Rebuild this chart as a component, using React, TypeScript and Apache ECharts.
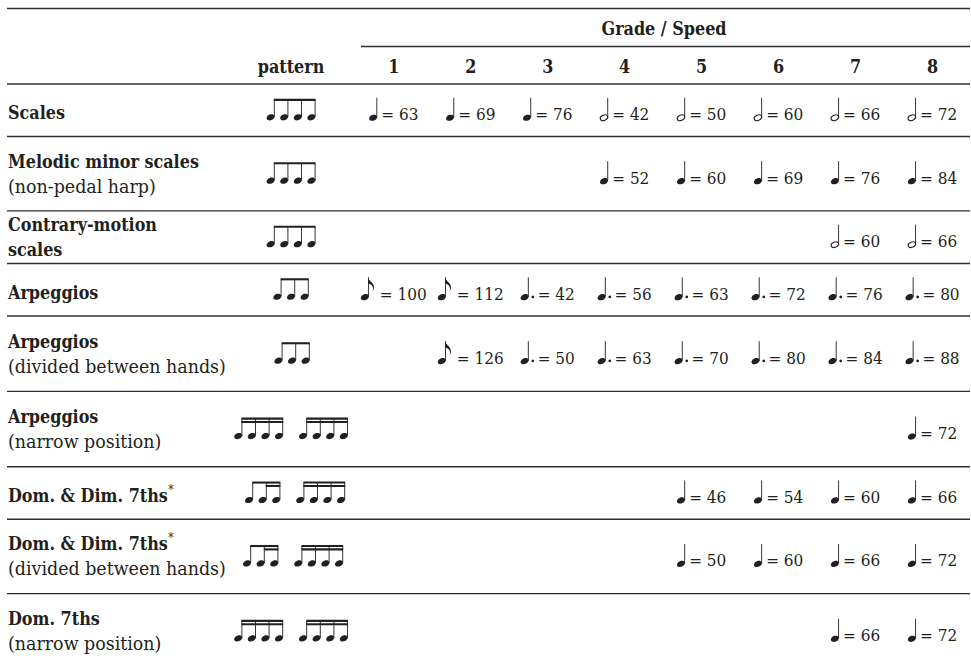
import React, { useEffect, useRef } from 'react';
import * as echarts from 'echarts';

// ---------- data ----------
const GRADES = ['1', '2', '3', '4', '5', '6', '7', '8'];
const HEADER_TITLE = 'Grade / Speed';
const PATTERN_TITLE = 'pattern';

const EXERCISES = [
  'Scales',
  'Melodic minor scales',
  'Contrary-motion',
  'Arpeggios',
  'Arpeggios',
  'Arpeggios',
  'Dom. & Dim. 7ths',
  'Dom. & Dim. 7ths',
  'Dom. 7ths',
];
const EXERCISE_SUBLINES = [
  '',
  '(non-pedal harp)',
  'scales',
  '',
  '(divided between hands)',
  '(narrow position)',
  '',
  '(divided between hands)',
  '(narrow position)',
];
const SUBLINE_BOLD = [false, false, true, false, false, false, false, false, false];
const FOOTNOTE_MARK = [false, false, false, false, false, false, true, true, false];

// rhythm patterns: groups of note values (8 = eighth, 16 = sixteenth)
const PATTERNS: number[][][] = [
  [[8, 8, 8, 8]],
  [[8, 8, 8, 8]],
  [[8, 8, 8, 8]],
  [[8, 8, 8]],
  [[8, 8, 8]],
  [[16, 16, 16, 16], [16, 16, 16, 16]],
  [[8, 16, 16], [16, 16, 16, 16]],
  [[8, 16, 16], [16, 16, 16, 16]],
  [[16, 16, 16, 16], [16, 16, 16, 16]],
];

// tempo values per grade (null = not required); note kinds: q quarter, h half, e eighth, d dotted quarter
const SCALES = [63, 69, 76, 42, 50, 60, 66, 72];
const SCALES_NOTE = ['q', 'q', 'q', 'h', 'h', 'h', 'h', 'h'];
const MELODIC_MINOR = [null, null, null, 52, 60, 69, 76, 84];
const MELODIC_MINOR_NOTE = ['', '', '', 'q', 'q', 'q', 'q', 'q'];
const CONTRARY = [null, null, null, null, null, null, 60, 66];
const CONTRARY_NOTE = ['', '', '', '', '', '', 'h', 'h'];
const ARPEGGIOS = [100, 112, 42, 56, 63, 72, 76, 80];
const ARPEGGIOS_NOTE = ['e', 'e', 'd', 'd', 'd', 'd', 'd', 'd'];
const ARP_DIVIDED = [null, 126, 50, 63, 70, 80, 84, 88];
const ARP_DIVIDED_NOTE = ['', 'e', 'd', 'd', 'd', 'd', 'd', 'd'];
const ARP_NARROW = [null, null, null, null, null, null, null, 72];
const ARP_NARROW_NOTE = ['', '', '', '', '', '', '', 'q'];
const DOM_DIM = [null, null, null, null, 46, 54, 60, 66];
const DOM_DIM_NOTE = ['', '', '', '', 'q', 'q', 'q', 'q'];
const DOM_DIM_DIVIDED = [null, null, null, null, 50, 60, 66, 72];
const DOM_DIM_DIVIDED_NOTE = ['', '', '', '', 'q', 'q', 'q', 'q'];
const DOM7_NARROW = [null, null, null, null, null, null, 66, 72];
const DOM7_NARROW_NOTE = ['', '', '', '', '', '', 'q', 'q'];

const TEMPI = [SCALES, MELODIC_MINOR, CONTRARY, ARPEGGIOS, ARP_DIVIDED, ARP_NARROW, DOM_DIM, DOM_DIM_DIVIDED, DOM7_NARROW];
const TEMPO_NOTES = [SCALES_NOTE, MELODIC_MINOR_NOTE, CONTRARY_NOTE, ARPEGGIOS_NOTE, ARP_DIVIDED_NOTE, ARP_NARROW_NOTE, DOM_DIM_NOTE, DOM_DIM_DIVIDED_NOTE, DOM7_NARROW_NOTE];

// ---------- layout ----------
const ROW_HEIGHTS = [53, 75, 53, 53, 76, 76, 53, 75, 76];
const ROW_TOP: number[] = [];
ROW_HEIGHTS.reduce((acc, h, i) => { ROW_TOP[i] = acc; return acc + h; }, 0);
const ROW_MID = ROW_HEIGHTS.map((h, i) => ROW_TOP[i] + h / 2);
const PATTERN_SHIFT = [0, 0, 0, 0, 1, 0, 4, 2, 0];

const INK = '#231f20';
const RULE = '#2e2e2e';
const LEFT = 7;
const RIGHT = 970;
const PATTERN_X = 291;

let measureCtx: CanvasRenderingContext2D | null = null;
function measure(text: string, font: string): number {
  if (!measureCtx) measureCtx = document.createElement('canvas').getContext('2d');
  measureCtx!.font = font;
  return measureCtx!.measureText(text).width;
}

function pickFonts() {
  const probe = 'Scales Melodic minor 0123456789';
  const a = measure(probe, 'bold 20px "DejaVu Serif Condensed", monospace');
  const b = measure(probe, 'bold 20px monospace');
  const condensed = Math.abs(a - b) > 0.5;
  if (condensed) {
    const fam = '"DejaVu Serif Condensed", "DejaVu Serif", serif';
    return {
      bold: `bold 17.8px ${fam}`,
      reg: `19.4px ${fam}`,
      tempo: `17px ${fam}`,
      star: `12px ${fam}`,
      fam,
      boldSize: 17.8,
    };
  }
  const fam = '"DejaVu Serif", serif';
  return {
    bold: `bold 16px ${fam}`,
    reg: `17.5px ${fam}`,
    tempo: `15px ${fam}`,
    star: `11px ${fam}`,
    fam,
    boldSize: 16,
  };
}

function head(x: number, y: number, filled: boolean): any {
  return {
    type: 'ellipse',
    x, y,
    rotation: 0.38,
    shape: { cx: 0, cy: 0, rx: filled ? 4.2 : 3.9, ry: filled ? 2.9 : 2.6 },
    style: filled ? { fill: INK } : { fill: 'none', stroke: INK, lineWidth: 1.1 },
  };
}
function stem(x: number, y1: number, y2: number): any {
  return { type: 'line', shape: { x1: x, y1, x2: x, y2 }, style: { stroke: INK, lineWidth: 0.9 } };
}

function tempoNote(kind: string, hx: number, hy: number): any[] {
  const els: any[] = [];
  const sx = hx + 3.7;
  const top = hy - 20;
  els.push(head(hx, hy, kind !== 'h'));
  els.push(stem(sx, hy - 0.5, top));
  if (kind === 'e') {
    const pts = [[0, 0], [0.8, 2.2], [2.6, 4.2], [4.6, 6.4], [5.8, 9], [5.6, 11.8], [4.6, 14.2], [4.9, 11.4], [4.4, 9.2], [3, 7.6], [0, 6.2]];
    els.push({ type: 'polygon', shape: { points: pts.map(([a, b]) => [sx - 0.4 + a, top + b]) }, style: { fill: INK } });
  }
  if (kind === 'd') {
    els.push({ type: 'circle', shape: { cx: hx + 8.2, cy: hy - 0.3, r: 1.4 }, style: { fill: INK } });
  }
  return els;
}
const NOTE_W: Record<string, number> = { q: 8.2, h: 8.2, e: 15, d: 11.4 };
const NOTE_GAP: Record<string, number> = { q: 4, h: 4, e: 4, d: 5.6 };

function patternEls(groups: number[][], centerX: number, headY: number): any[] {
  const sp = 13.6;
  const gGap = 24;
  const xs: number[][] = [];
  let x = 0;
  groups.forEach((g, gi) => {
    if (gi > 0) x += gGap - sp;
    const gx: number[] = [];
    g.forEach(() => { gx.push(x); x += sp; });
    xs.push(gx);
  });
  const first = xs[0][0];
  const lastG = xs[xs.length - 1];
  const last = lastG[lastG.length - 1];
  const off = centerX - (first + last) / 2;
  const beamTop = headY - 18.5;
  const els: any[] = [];
  groups.forEach((g, gi) => {
    const hxs = xs[gi].map((v) => v + off);
    hxs.forEach((hx) => {
      els.push(head(hx, headY, true));
      els.push(stem(hx + 3.7, headY - 0.5, beamTop + 1));
    });
    const s0 = hxs[0] + 3.7;
    const s1 = hxs[hxs.length - 1] + 3.7;
    els.push({ type: 'rect', shape: { x: s0 - 0.45, y: beamTop, width: s1 - s0 + 0.9, height: 2.1 }, style: { fill: INK } });
    let i = 0;
    while (i < g.length) {
      if (g[i] === 16) {
        let j = i;
        while (j + 1 < g.length && g[j + 1] === 16) j++;
        if (j > i) {
          const a = hxs[i] + 3.7;
          const b = hxs[j] + 3.7;
          els.push({ type: 'rect', shape: { x: a - 0.45, y: beamTop + 3.4, width: b - a + 0.9, height: 2.1 }, style: { fill: INK } });
        }
        i = j + 1;
      } else i++;
    }
  });
  return els;
}

// tempo cells built from the named arrays
const CELLS: { grade: number; row: number; value: number; kind: string }[] = [];
TEMPI.forEach((arr, r) => {
  arr.forEach((v, g) => {
    if (v !== null && v !== undefined) CELLS.push({ grade: g, row: r, value: v as number, kind: TEMPO_NOTES[r][g] });
  });
});

function buildOption(): any {
  const F = pickFonts();
  return {
    animation: false,
    backgroundColor: '#ffffff',
    grid: { left: 355.3, top: 84, width: 619.4, height: 590 },
    xAxis: {
      type: 'category',
      data: GRADES,
      position: 'top',
      axisLine: { show: false },
      axisTick: { show: false },
      splitLine: { show: false },
      axisLabel: { fontFamily: F.fam, fontWeight: 'bold', fontSize: F.boldSize, color: INK, margin: 9 },
    },
    yAxis: { type: 'value', min: 0, max: 590, inverse: true, show: false },
    graphic: [
      { type: 'line', shape: { x1: LEFT, y1: 8.5, x2: RIGHT, y2: 8.5 }, style: { stroke: RULE, lineWidth: 1.4 } },
      { type: 'text', x: 664, y: 28, style: { text: HEADER_TITLE, font: F.bold, fill: INK, align: 'center', verticalAlign: 'middle' } },
      { type: 'line', shape: { x1: 361, y1: 46.5, x2: RIGHT, y2: 46.5 }, style: { stroke: RULE, lineWidth: 1.4 } },
      { type: 'text', x: PATTERN_X, y: 66, style: { text: PATTERN_TITLE, font: F.bold, fill: INK, align: 'center', verticalAlign: 'middle' } },
    ],
    series: [
      {
        type: 'custom',
        name: 'rows',
        clip: false,
        silent: true,
        data: EXERCISES.map((_, i) => [0, ROW_MID[i]]),
        renderItem: (params: any, api: any) => {
          const i = params.dataIndex;
          const top = api.coord([0, ROW_TOP[i]])[1];
          const c = api.coord([0, ROW_MID[i]])[1];
          const children: any[] = [];
          children.push({ type: 'line', shape: { x1: LEFT, y1: top, x2: RIGHT, y2: top }, style: { stroke: RULE, lineWidth: 1.4 } });
          const two = EXERCISE_SUBLINES[i] !== '';
          const y1 = two ? c - 12.5 : c + 2.5;
          children.push({ type: 'text', x: 8, y: y1, style: { text: EXERCISES[i], font: F.bold, fill: INK, align: 'left', verticalAlign: 'middle' } });
          if (FOOTNOTE_MARK[i]) {
            const w = measure(EXERCISES[i], F.bold);
            children.push({ type: 'text', x: 8 + w + 0.5, y: y1 - 5.5, style: { text: '*', font: F.star, fill: INK, align: 'left', verticalAlign: 'middle' } });
          }
          if (two) {
            children.push({ type: 'text', x: 8, y: c + 12.5, style: { text: EXERCISE_SUBLINES[i], font: SUBLINE_BOLD[i] ? F.bold : F.reg, fill: INK, align: 'left', verticalAlign: 'middle' } });
          }
          children.push(...patternEls(PATTERNS[i], PATTERN_X + PATTERN_SHIFT[i], c + 7));
          return { type: 'group', children };
        },
      },
      {
        type: 'custom',
        name: 'tempo',
        clip: false,
        silent: true,
        data: CELLS.map((cell) => [cell.grade, ROW_MID[cell.row], cell.value]),
        renderItem: (params: any, api: any) => {
          const cell = CELLS[params.dataIndex];
          const [cx, cy] = api.coord([cell.grade, ROW_MID[cell.row] + 4]);
          const label = '= ' + cell.value;
          const tw = measure(label, F.tempo);
          const nw = NOTE_W[cell.kind];
          const gap = NOTE_GAP[cell.kind];
          const left = cx - (nw + gap + tw) / 2;
          const children: any[] = tempoNote(cell.kind, left + 4, cy + 3.5);
          children.push({ type: 'text', x: left + nw + gap, y: cy, style: { text: label, font: F.tempo, fill: INK, align: 'left', verticalAlign: 'middle' } });
          return { type: 'group', children };
        },
      },
    ],
  };
}

export default function App() {
  const ref = useRef<HTMLDivElement>(null);
  useEffect(() => {
    const chart = echarts.init(ref.current!, null, { renderer: 'svg' });
    chart.setOption(buildOption());
    return () => chart.dispose();
  }, []);
  return (
    <div
      ref={ref}
      style={{ position: 'fixed', left: 0, top: 0, width: 971, height: 669, background: '#ffffff' }}
    />
  );
}
